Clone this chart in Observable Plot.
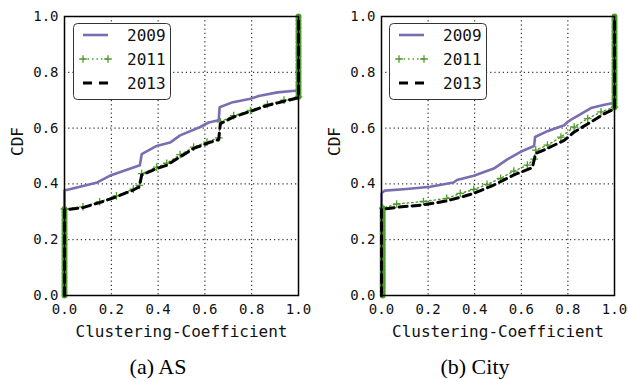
<!DOCTYPE html>
<html><head><meta charset="utf-8">
<script src="https://cdn.jsdelivr.net/npm/d3@7"></script>
<script src="https://cdn.jsdelivr.net/npm/@observablehq/plot@0.6"></script>
<style>
body{margin:0;background:#fff;}
#wrap{position:relative;width:628px;height:380px;overflow:hidden;}
.panel{position:absolute;top:0;}
.cap{position:absolute;top:354px;font-family:"Liberation Serif","Times New Roman",serif;font-size:22px;line-height:26px;transform:translateX(-50%);white-space:nowrap;color:#000;}
</style></head><body><div id="wrap"></div>
<script>
const years = ["2009", "2011", "2013"];
const colors = {"2009": "#7a6db2", "2011": "#4f9a2c", "2013": "#000000"};
const tickValues = [0, 0.2, 0.4, 0.6, 0.8, 1.0];
const panelTitles = ["(a) AS", "(b) City"];
const xLabel = "Clustering-Coefficient";
const yLabel = "CDF";

// (a) AS
const asX2009 = [0, 0, 0.136, 0.193, 0.322, 0.33, 0.394, 0.451, 0.494, 0.58, 0.616, 0.659, 0.663, 0.72, 0.795, 0.83, 0.91, 0.996, 1, 1];
const asY2009 = [0, 0.376, 0.404, 0.429, 0.467, 0.507, 0.536, 0.548, 0.574, 0.604, 0.62, 0.628, 0.675, 0.693, 0.705, 0.715, 0.728, 0.735, 0.74, 1];
const asX2011 = [0, 0, 0.079, 0.15, 0.222, 0.294, 0.32, 0.33, 0.394, 0.437, 0.494, 0.552, 0.609, 0.659, 0.666, 0.723, 0.795, 0.867, 0.938, 1, 1];
const asY2011 = [0, 0.31, 0.318, 0.336, 0.357, 0.381, 0.395, 0.437, 0.46, 0.474, 0.505, 0.532, 0.55, 0.565, 0.622, 0.645, 0.663, 0.685, 0.7, 0.712, 1];
const asX2013 = [0, 0, 0.079, 0.15, 0.222, 0.294, 0.32, 0.33, 0.394, 0.437, 0.494, 0.552, 0.609, 0.659, 0.666, 0.723, 0.795, 0.867, 0.938, 1, 1];
const asY2013 = [0, 0.307, 0.315, 0.333, 0.354, 0.378, 0.39, 0.432, 0.455, 0.467, 0.497, 0.527, 0.545, 0.559, 0.616, 0.64, 0.66, 0.681, 0.696, 0.709, 1];

// (b) City
const cityX2009 = [0, 0, 0.014, 0.108, 0.209, 0.309, 0.324, 0.396, 0.482, 0.54, 0.597, 0.655, 0.659, 0.712, 0.784, 0.799, 0.827, 0.899, 0.957, 1, 1];
const cityY2009 = [0, 0.366, 0.376, 0.382, 0.39, 0.405, 0.414, 0.429, 0.455, 0.488, 0.515, 0.536, 0.568, 0.589, 0.61, 0.622, 0.637, 0.672, 0.684, 0.691, 1];
const cityX2011 = [0.005, 0.005, 0.065, 0.18, 0.28, 0.338, 0.396, 0.453, 0.511, 0.568, 0.626, 0.655, 0.662, 0.712, 0.77, 0.827, 0.885, 0.942, 1, 1];
const cityY2011 = [0, 0.313, 0.328, 0.337, 0.348, 0.366, 0.38, 0.398, 0.42, 0.446, 0.467, 0.489, 0.521, 0.539, 0.568, 0.604, 0.634, 0.658, 0.675, 1];
const cityX2013 = [0, 0, 0.065, 0.18, 0.28, 0.338, 0.396, 0.482, 0.568, 0.647, 0.662, 0.712, 0.784, 0.827, 0.899, 0.957, 1, 1];
const cityY2013 = [0, 0.309, 0.316, 0.325, 0.339, 0.352, 0.366, 0.396, 0.432, 0.458, 0.509, 0.527, 0.556, 0.586, 0.622, 0.652, 0.669, 1];

const panels = [
  {title: panelTitles[0], xs: {"2009": asX2009, "2011": asX2011, "2013": asX2013}, ys: {"2009": asY2009, "2011": asY2011, "2013": asY2013},
   left: 0, marginLeft: 64, marginRight: 16, legendLeft: 73, capCenter: 158},
  {title: panelTitles[1], xs: {"2009": cityX2009, "2011": cityX2011, "2013": cityX2013}, ys: {"2009": cityY2009, "2011": cityY2011, "2013": cityY2013},
   left: 314, marginLeft: 67, marginRight: 14, legendLeft: 75, capCenter: 475}
];

const wrap = document.getElementById("wrap");
const mono = "'DejaVu Sans Mono', monospace";

function rows(p, year) {
  return p.xs[year].map((x, i) => ({year, x, y: p.ys[year][i], i}));
}

for (const p of panels) {
  const d09 = rows(p, "2009"), d11 = rows(p, "2011"), d13 = rows(p, "2013");
  const n = d11.length;
  const hatch = [
    ...d11.slice(0, 2).map(d => ({...d, seg: "start"})),
    ...d11.slice(n - 2).map(d => ({...d, seg: "end"}))
  ];
  const chart = Plot.plot({
    width: 314, height: 352,
    marginLeft: p.marginLeft, marginRight: p.marginRight, marginTop: 16, marginBottom: 57,
    style: {fontFamily: mono, fontSize: "14px", background: "transparent", color: "#111"},
    x: {domain: [0, 1]},
    y: {domain: [0, 1]},
    marks: [
      Plot.gridX(tickValues.slice(1, -1), {stroke: "#000", strokeOpacity: 1, strokeWidth: 1, strokeDasharray: "1.2,3"}),
      Plot.gridY(tickValues.slice(1, -1), {stroke: "#000", strokeOpacity: 1, strokeWidth: 1, strokeDasharray: "1.2,3"}),
      Plot.line(d09, {x: "x", y: "y", stroke: colors["2009"], strokeWidth: 2.6}),
      Plot.line(d11, {x: "x", y: "y", stroke: colors["2011"], strokeWidth: 1.4, strokeDasharray: "1.5,3"}),
      Plot.dot(d11.slice(1, -1), {x: "x", y: "y", symbol: "plus", r: 2.6, stroke: colors["2011"], strokeWidth: 1.3}),
      Plot.line(hatch, {x: "x", y: "y", z: "seg", stroke: colors["2011"], strokeWidth: 6, strokeDasharray: "1.2,2.4"}),
      Plot.line(d13, {x: "x", y: "y", stroke: colors["2013"], strokeWidth: 3, strokeDasharray: "8,5"}),
      Plot.frame({stroke: "#000", strokeWidth: 1.5}),
      Plot.axisX(tickValues, {tickSize: 0, tickPadding: 9, tickFormat: d3.format(".1f"), label: null, fontSize: 14}),
      Plot.axisY(tickValues, {tickSize: 0, tickPadding: 6, tickFormat: d3.format(".1f"), label: null, fontSize: 14}),
      Plot.text([xLabel], {frameAnchor: "bottom", dy: 36, lineAnchor: "middle", fontSize: 16, text: d => d}),
      Plot.text([yLabel], {frameAnchor: "left", dx: -47, rotate: -90, lineAnchor: "middle", fontSize: 16, text: d => d})
    ]
  });
  const div = document.createElement("div");
  div.className = "panel";
  div.style.left = p.left + "px";
  div.appendChild(chart);

  // legend
  const lw = 98, lh = 77;
  const svg = d3.create("svg").attr("width", lw).attr("height", lh)
    .style("left", p.legendLeft + "px").style("position", "absolute").style("top", "23px");
  svg.append("rect").attr("x", 0.5).attr("y", 0.5).attr("width", lw - 1).attr("height", lh - 1)
    .attr("rx", 4).attr("fill", "#fff").attr("stroke", "#333").attr("stroke-width", 1);
  years.forEach((yr, k) => {
    const yy = 12 + k * 24;
    const g = svg.append("g");
    if (yr === "2009") {
      g.append("line").attr("x1", 10).attr("x2", 35).attr("y1", yy).attr("y2", yy)
        .attr("stroke", colors[yr]).attr("stroke-width", 2.6);
    } else if (yr === "2011") {
      g.append("line").attr("x1", 10).attr("x2", 35).attr("y1", yy).attr("y2", yy)
        .attr("stroke", colors[yr]).attr("stroke-width", 1.4).attr("stroke-dasharray", "1.5,3");
      [10, 35].forEach(cx => {
        g.append("path").attr("d", `M${cx - 3.8},${yy}H${cx + 3.8}M${cx},${yy - 3.8}V${yy + 3.8}`)
          .attr("stroke", colors[yr]).attr("stroke-width", 1.3).attr("fill", "none");
      });
    } else {
      g.append("line").attr("x1", 10).attr("x2", 35).attr("y1", yy).attr("y2", yy)
        .attr("stroke", colors[yr]).attr("stroke-width", 3).attr("stroke-dasharray", "9,7");
    }
    g.append("text").attr("x", 54).attr("y", yy).attr("dy", "0.35em")
      .attr("font-family", mono).attr("font-size", 16).attr("fill", "#111").text(yr);
  });
  div.appendChild(svg.node());
  wrap.appendChild(div);

  const cap = document.createElement("div");
  cap.className = "cap";
  cap.style.left = p.capCenter + "px";
  cap.textContent = p.title;
  wrap.appendChild(cap);
}
</script></body></html>
